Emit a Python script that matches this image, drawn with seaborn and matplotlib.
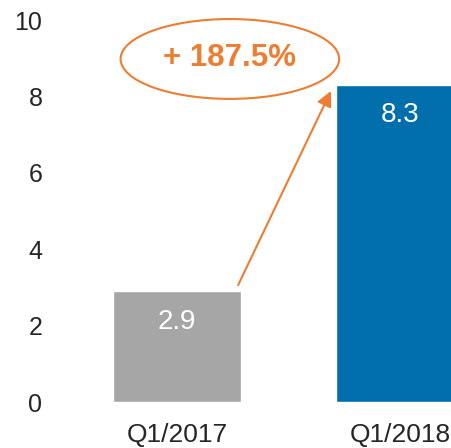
import matplotlib
matplotlib.use("Agg")
import matplotlib.pyplot as plt
from matplotlib.patches import Ellipse
import seaborn as sns
import pandas as pd

quarters = ["Q1/2017", "Q1/2018"]
revenue = [2.9, 8.3]
bar_colors = ["#A6A6A6", "#006FAC"]
growth_label = "+ 187.5%"
orange = "#ED7D31"

sns.set_style("white")
plt.rcParams["font.family"] = ["Liberation Sans", "DejaVu Sans"]

df = pd.DataFrame({"quarter": quarters, "value": revenue})

fig = plt.figure(figsize=(4.52, 4.48), dpi=100)
ax = fig.add_axes([55 / 452, 46 / 448, 397 / 452, 382 / 448])

sns.barplot(data=df, x="quarter", y="value", hue="quarter", palette=bar_colors,
            width=0.57, saturation=1, legend=False, ax=ax)

ax.set_xlim(-0.547, 1.233)
ax.set_ylim(0, 10)
ax.set_yticks(range(0, 11, 2))
ax.set_xlabel("")
ax.set_ylabel("")
sns.despine(ax=ax, left=True, bottom=True)
ax.tick_params(axis="y", length=0, pad=9, labelsize=18)
ax.tick_params(axis="x", length=0, pad=15, labelsize=19)

# value labels inside the bars
for i, v in enumerate(revenue):
    ax.text(i, v - 0.8, f"{v}", ha="center", va="center", color="white", fontsize=20)

# growth arrow and ellipse
ax.annotate("", xy=(0.69, 8.14), xytext=(0.274, 3.06),
            arrowprops=dict(arrowstyle="-|>,head_length=0.9,head_width=0.45",
                            color=orange, lw=1.5, shrinkA=0, shrinkB=0),
            annotation_clip=False)
ax.add_patch(Ellipse((0.237, 8.98), 0.98, 2.09, fill=False, edgecolor=orange,
                     lw=1.5, clip_on=False))
ax.text(0.237, 9.0, growth_label, ha="center", va="center", color=orange,
        fontsize=22.5, fontweight="bold")

plt.savefig("out.png", dpi=100)
